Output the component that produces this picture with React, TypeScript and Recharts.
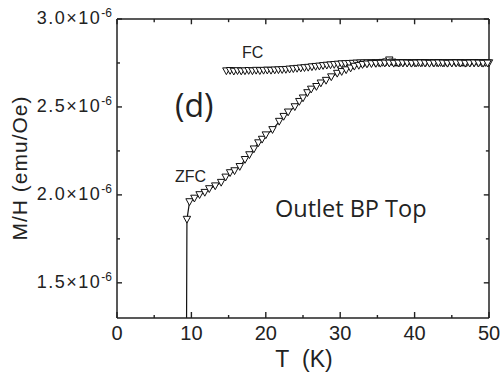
import React from 'react';
import { LineChart, Line, XAxis, YAxis, ReferenceLine } from 'recharts';

// Temperature (K) and M/H (in units of 1e-6 emu/Oe)
const zfcT = [9.35, 9.4, 9.75, 10.4, 11.1, 11.8, 12.4, 13.2, 14.0, 14.6, 15.2, 15.8, 16.5, 17.2, 17.8, 18.4, 19.0, 19.5, 20.0, 20.9, 21.8, 22.4, 23.0, 23.9, 24.5, 25.0, 25.6, 26.1, 26.8, 27.4, 28.1, 28.8, 29.6, 30.2, 30.8, 31.4, 31.9, 32.5, 33.0, 33.6, 34.2, 34.8, 35.4, 36.0, 36.6, 37.2, 37.8, 38.4, 39.0, 39.6, 40.2, 40.8, 41.4, 42.0, 42.6, 43.2, 43.8, 44.4, 45.0, 45.6, 46.2, 46.8, 47.4, 48.0, 48.6, 49.2, 49.8];
const zfcV = [1.3, 1.86, 1.96, 1.98, 2.0, 2.013, 2.034, 2.05, 2.07, 2.1, 2.125, 2.136, 2.16, 2.2, 2.227, 2.26, 2.295, 2.315, 2.34, 2.37, 2.417, 2.445, 2.47, 2.5, 2.53, 2.55, 2.58, 2.6, 2.615, 2.635, 2.65, 2.67, 2.69, 2.7, 2.71, 2.72, 2.73, 2.735, 2.74, 2.743, 2.745, 2.746, 2.747, 2.748, 2.748, 2.747, 2.748, 2.749, 2.748, 2.747, 2.748, 2.749, 2.748, 2.747, 2.748, 2.749, 2.748, 2.747, 2.748, 2.749, 2.748, 2.747, 2.748, 2.749, 2.748, 2.747, 2.748];

const fcT = [14.7, 15.2, 15.7, 16.2, 16.7, 17.2, 17.7, 18.2, 18.7, 19.2, 19.7, 20.2, 20.7, 21.2, 21.7, 22.2, 22.7, 23.2, 23.7, 24.2, 24.7, 25.2, 25.7, 26.2, 26.7, 27.2, 27.7, 28.2, 28.7, 29.2, 29.7, 30.2, 30.7, 31.2, 31.7, 32.2, 32.7, 33.2, 33.7, 34.2, 34.7, 35.2, 35.7, 36.2, 36.6, 37.0, 37.5, 38.0, 38.5, 39.0, 39.5, 40.0, 40.5, 41.0, 41.5, 42.0, 42.5, 43.0, 43.5, 44.0, 44.5, 45.0, 45.5, 46.0, 46.5, 47.0, 47.5, 48.0, 48.5, 49.0, 49.5, 50.0];
const fcV = [2.704, 2.706, 2.702, 2.705, 2.703, 2.704, 2.706, 2.704, 2.707, 2.705, 2.707, 2.708, 2.707, 2.709, 2.71, 2.711, 2.712, 2.714, 2.716, 2.718, 2.72, 2.722, 2.724, 2.727, 2.729, 2.731, 2.734, 2.736, 2.738, 2.74, 2.742, 2.744, 2.745, 2.746, 2.747, 2.748, 2.749, 2.749, 2.75, 2.75, 2.751, 2.75, 2.752, 2.755, 2.766, 2.754, 2.751, 2.75, 2.751, 2.75, 2.751, 2.75, 2.751, 2.75, 2.751, 2.75, 2.751, 2.75, 2.751, 2.75, 2.751, 2.75, 2.751, 2.75, 2.751, 2.75, 2.751, 2.75, 2.751, 2.75, 2.751, 2.75];

const xTicks = [0, 5, 10, 15, 20, 25, 30, 35, 40, 45, 50];
const xLabels = [0, 10, 20, 30, 40, 50];
const yTicks = [1.5, 1.75, 2.0, 2.25, 2.5, 2.75, 3.0];
const yLabels = [1.5, 2.0, 2.5, 3.0];
const X_DOMAIN = [0, 50];
const Y_DOMAIN = [1.3, 3.0];

const zfcData = zfcT.map((T, i) => ({ T, v: zfcV[i] }));
const fcData = fcT.map((T, i) => ({ T, v: fcV[i] }));

const INK = '#222';
const AX = 'Liberation Sans, Arial, sans-serif';

const isMajorX = (v: number) => xLabels.includes(v);
const isMajorY = (v: number) => yLabels.some((l) => Math.abs(l - v) < 1e-9);

const xTickLen = (major: boolean) => (major ? 0.7 : 0.42);
const yTickLen = (major: boolean) => (major ? 0.03 : 0.018);

const BottomTick = (props: any) => {
  const { x, y, payload } = props;
  const major = isMajorX(payload.value);
  return (
    <g>
      <line x1={x} x2={x} y1={y} y2={y - (major ? 6 : 3)} stroke={INK} strokeWidth={1.4} />
      {major && (
        <text x={x} y={y + 22} textAnchor="middle" fontSize={20} fontFamily={AX} fill={INK}>
          {payload.value}
        </text>
      )}
    </g>
  );
};

const LeftTick = (props: any) => {
  const { x, y, payload } = props;
  const major = isMajorY(payload.value);
  return (
    <g>
      <line x1={x} x2={x + (major ? 5 : 3)} y1={y} y2={y} stroke={INK} strokeWidth={1.4} />
      {major && (
        <text x={x - 5} y={y + 5} textAnchor="end" fontSize={18} fontFamily={AX} fill={INK} letterSpacing={1.5}>
          <tspan>{payload.value.toFixed(1)}×10</tspan>
          <tspan dy={-7} fontSize={12} letterSpacing={0}>-6</tspan>
        </text>
      )}
    </g>
  );
};

const Tri = (props: any) => {
  const { cx, cy, payload } = props;
  if (cx == null || cy == null || (payload && payload.v < 1.5)) {
    return <circle cx={cx || 0} cy={cy || 0} r={0} fill="none" />;
  }
  return (
    <path
      d={`M${cx - 3.7},${cy - 3.2} L${cx + 3.7},${cy - 3.2} L${cx},${cy + 3.6} Z`}
      fill="#fff"
      stroke="#111"
      strokeWidth={1}
    />
  );
};

const Annotations = () => (
  <svg width={501} height={380} style={{ position: 'absolute', left: 0, top: 0, pointerEvents: 'none' }}>
    <g fill={INK}>
      <text x={27} y={168} transform="rotate(-90 27 168)" textAnchor="middle" fontSize={21} fontFamily={AX} letterSpacing={1}>
        M/H (emu/Oe)
      </text>
      <text x={304} y={367} textAnchor="middle" fontSize={23} fontFamily={AX}>
        T{'\u00a0\u00a0'}(K)
      </text>
      <text x={175} y={117} fontSize={32} fontFamily="Open Sans, sans-serif">(d)</text>
      <text x={175} y={182} fontSize={16} fontFamily={AX}>ZFC</text>
      <text x={242} y={58} fontSize={16} fontFamily={AX}>FC</text>
      <text x={275} y={217} fontSize={23.5} fontFamily="Open Sans, sans-serif">Outlet BP Top</text>
    </g>
  </svg>
);

const tickStyle = { stroke: INK, strokeWidth: 1.4, ifOverflow: 'visible' as const, xAxisId: 'b', yAxisId: 'l' };

export default function App() {
  const [x0, x1] = X_DOMAIN;
  const [y0, y1] = Y_DOMAIN;
  return (
    <div style={{ position: 'absolute', left: 0, top: 0, width: 501, height: 380 }}>
      <LineChart width={501} height={380} margin={{ top: 19, right: 12, bottom: 0, left: 0 }}>
        <XAxis xAxisId="b" type="number" dataKey="T" domain={X_DOMAIN} ticks={xTicks} height={62}
          tickSize={0} tickMargin={0} tickLine={false}
          axisLine={{ stroke: INK, strokeWidth: 1.5 }} tick={<BottomTick />} />
        <YAxis yAxisId="l" type="number" domain={Y_DOMAIN} ticks={yTicks} width={117}
          tickSize={0} tickMargin={0} tickLine={false}
          axisLine={{ stroke: INK, strokeWidth: 1.5 }} tick={<LeftTick />} />
        <ReferenceLine xAxisId="b" yAxisId="l" y={y1} stroke={INK} strokeWidth={1.5} ifOverflow="visible" />
        <ReferenceLine xAxisId="b" yAxisId="l" x={x1} stroke={INK} strokeWidth={1.5} ifOverflow="visible" />
        {xTicks.map((t) => (
          <ReferenceLine key={`tt${t}`} {...tickStyle}
            segment={[{ x: t, y: y1 }, { x: t, y: y1 - yTickLen(isMajorX(t)) }]} />
        ))}
        {yTicks.map((v) => (
          <ReferenceLine key={`rt${v}`} {...tickStyle}
            segment={[{ x: x1, y: v }, { x: x1 - xTickLen(isMajorY(v)), y: v }]} />
        ))}
        <Line data={fcData} dataKey="v" xAxisId="b" yAxisId="l" stroke="#111" strokeWidth={1}
          dot={<Tri />} isAnimationActive={false} />
        <Line data={zfcData} dataKey="v" xAxisId="b" yAxisId="l" stroke="#111" strokeWidth={1.2}
          dot={<Tri />} isAnimationActive={false} />
      </LineChart>
      <Annotations />
    </div>
  );
}
